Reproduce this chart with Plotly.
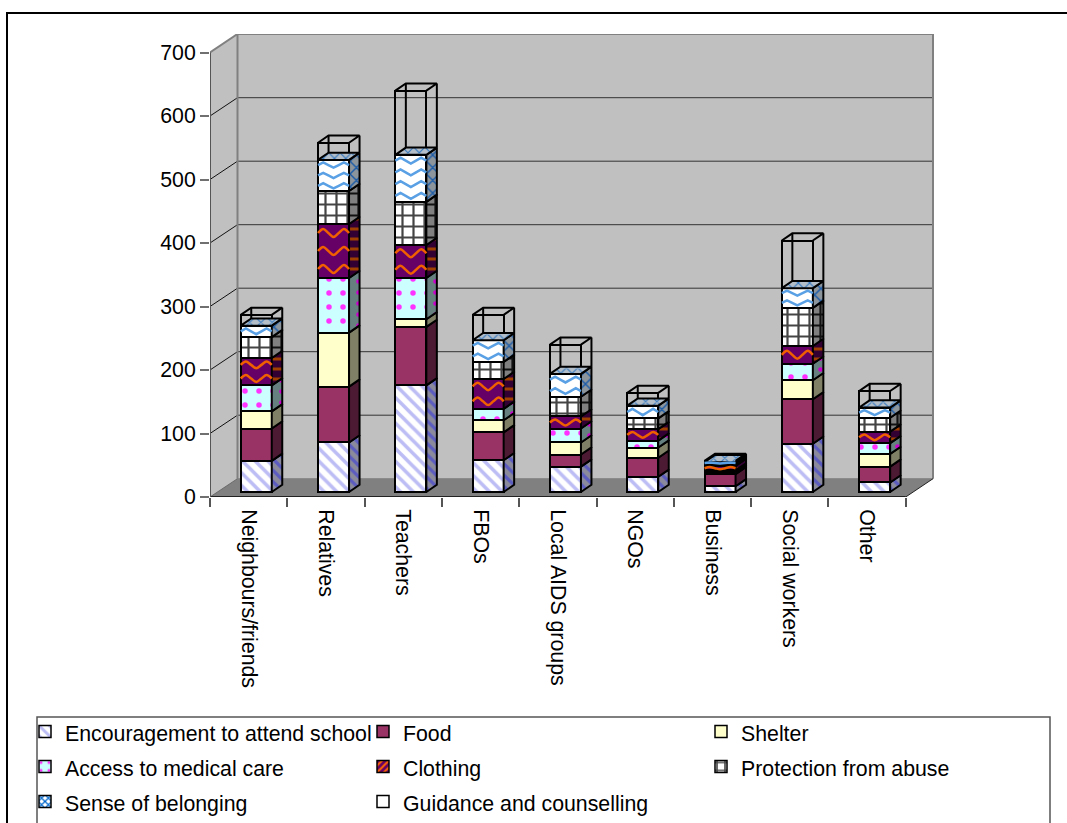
import plotly.graph_objects as go

# Support received from each source, stacked by type of support
categories = ["Neighbours/friends", "Relatives", "Teachers", "FBOs", "Local AIDS groups",
              "NGOs", "Business", "Social workers", "Other"]
encouragement = [49, 78, 168, 50, 40, 24, 9, 76, 15]
food = [51, 88, 92, 44, 19, 30, 19, 70, 25]
shelter = [27, 85, 12, 19, 19, 16, 3, 30, 20]
medical_care = [41, 86, 65, 18, 22, 11, 3, 26, 17]
clothing = [43, 85, 52, 47, 19, 18, 7, 28, 18]
protection = [33, 52, 68, 27, 31, 17, 3, 60, 22]
belonging = [18, 49, 74, 34, 36, 20, 3, 31, 16]
guidance = [17, 27, 101, 40, 46, 20, 2, 75, 26]
y_ticks = [0, 100, 200, 300, 400, 500, 600, 700]

# Plot-area geometry, in pixels; the axes run to the page edge so the legend can span it
W, H = 1067, 823
LEFT, RIGHT, TOP, BOTTOM = 210, W, 34, 497
BOX_RIGHT = 933
CAT_PX = 77.3
VAL_PX = 0.635
FONT = "Liberation Sans, Arial, sans-serif"
TEXT_SIZE = 21.3

X_AXIS_MAX = (RIGHT - LEFT) / CAT_PX
X_MAX = (BOX_RIGHT - LEFT) / CAT_PX
Y_MAX = (BOTTOM - TOP) / VAL_PX
# Depth of the box (wall offset) and of each column, in axis units
BOX_DX, BOX_DY = 27.5 / CAT_PX, 18.3 / VAL_PX
BAR_DX, BAR_DY = 10.5 / CAT_PX, 7.2 / VAL_PX
BAR_W = 31 / CAT_PX
# Columns stand on the floor, part-way into the box
BAR_X_OFF, BAR_Y_OFF = 7.6 / CAT_PX, 5 / VAL_PX


def paper_x(px):
    return (px - LEFT) / (RIGHT - LEFT)


def paper_y(px):
    return (BOTTOM - px) / (BOTTOM - TOP)


series = [
    dict(name="Encouragement to attend school", values=encouragement, bg="#FFFFFF",
         pattern=dict(shape="\\", fgcolor="#BDBDF5", size=9, solidity=0.4), key=None,
         side="#8A8A9C", side_pattern=dict(shape="\\", fgcolor="#5C5CC0", size=8, solidity=0.4)),
    dict(name="Food", values=food, bg="#993366", pattern=None, key=None,
         side="#4D1A33", side_pattern=None),
    dict(name="Shelter", values=shelter, bg="#FFFFCC", pattern=None, key=None,
         side="#808066", side_pattern=None),
    dict(name="Access to medical care", values=medical_care, bg="#CCFFFF",
         pattern=dict(shape=".", fgcolor="#FF33FF", size=14, solidity=0.12), key=None,
         side="#668080", side_pattern=dict(shape=".", fgcolor="#CC00CC", size=11, solidity=0.14)),
    dict(name="Clothing", values=clothing, bg="#660066", pattern=None,
         key=dict(shape="/", fgcolor="#FF6600", size=6, solidity=0.4),
         side="#330033", side_pattern=dict(shape="-", fgcolor="#A04000", size=10, solidity=0.3)),
    dict(name="Protection from abuse", values=protection, bg="#FFFFFF",
         pattern=dict(shape="+", fgcolor="#444444", size=11, solidity=0.36), key=None,
         side="#808080", side_pattern=dict(shape="+", fgcolor="#111111", size=11, solidity=0.36)),
    dict(name="Sense of belonging", values=belonging, bg="#FFFFFF", pattern=None,
         key=dict(shape="x", fgcolor="#0066CC", size=6, solidity=0.45),
         side="#8C949C", side_pattern=dict(shape="x", fgcolor="#1C5CA8", size=9, solidity=0.3)),
    dict(name="Guidance and counselling", values=guidance, bg="rgba(0,0,0,0)", pattern=None,
         key=None, side=None, side_pattern=None),
]

fig = go.Figure()

x_front = [i + 0.5 + BAR_X_OFF for i in range(len(categories))]
bases = [BAR_Y_OFF] * len(categories)
stack_edges = []

# Front faces of the stacked columns
for s in series:
    marker = dict(color=s["bg"], line=dict(color="#000000", width=2))
    if s["pattern"]:
        marker["pattern"] = dict(bgcolor=s["bg"], **s["pattern"])
    fig.add_trace(go.Bar(name=s["name"], x=x_front, y=s["values"], base=list(bases), width=BAR_W,
                         marker=marker, hoverinfo="name+y", showlegend=False))
    tops = [b + v for b, v in zip(bases, s["values"])]
    stack_edges.append((list(bases), tops))
    bases = tops

# Legend keys, in stacking order
for s in series:
    key = s["key"] or s["pattern"]
    marker = dict(color=s["bg"], line=dict(color="#000000", width=1.5))
    if key:
        marker["pattern"] = dict(bgcolor=s["bg"], **key)
    fig.add_trace(go.Bar(name=f'<span style="font-size:{TEXT_SIZE}px">{s["name"]}</span>',
                         x=[None], y=[None], marker=marker, showlegend=True))


def add_face(xs, ys, fill, pattern=None):
    kw = dict(fillpattern=dict(bgcolor=fill, **pattern)) if pattern else {}
    fig.add_trace(go.Scatter(x=xs, y=ys, mode="lines", fill="toself", fillcolor=fill,
                             line=dict(color="#000000", width=2), showlegend=False,
                             hoverinfo="skip", **kw))


def add_outline(xs, ys):
    fig.add_trace(go.Scatter(x=xs, y=ys, mode="lines", line=dict(color="#000000", width=2),
                             showlegend=False, hoverinfo="skip"))


# Right-hand side faces of every segment, bottom to top
half = BAR_W / 2
for s, (lo, hi) in zip(series, stack_edges):
    for cx, b, t in zip(x_front, lo, hi):
        xr = cx + half
        xs = [xr, xr + BAR_DX, xr + BAR_DX, xr, xr]
        ys = [b, b + BAR_DY, t + BAR_DY, t, b]
        if s["side"]:
            add_face(xs, ys, s["side"], s["side_pattern"])

# Lid of the solid part of each column, seen through the open top segment
sense_lo, sense_hi = stack_edges[6]
for cx, t in zip(x_front, sense_hi):
    xl, xr = cx - half, cx + half
    add_face([xl, xr, xr + BAR_DX, xl + BAR_DX, xl], [t, t, t + BAR_DY, t + BAR_DY, t],
             "#B4BEC8", dict(shape="x", fgcolor="#2C74C0", size=8, solidity=0.25))

# Wire-frame edges of the open top segment
guide_lo, guide_hi = stack_edges[7]
for cx, b, t in zip(x_front, guide_lo, guide_hi):
    xl, xr = cx - half, cx + half
    add_outline([xl, xl + BAR_DX, xr + BAR_DX, xr], [t, t + BAR_DY, t + BAR_DY, t])
    add_outline([xl + BAR_DX, xl + BAR_DX], [b + BAR_DY, t + BAR_DY])
    add_outline([xr + BAR_DX, xr + BAR_DX], [b + BAR_DY, t + BAR_DY])


def hatch_rows(lo, hi, spacing_px, amp_px):
    """Rows of wiggles that fill each segment, for the woven fills."""
    wx, wy = [], []
    for cx, b, t in zip(x_front, lo, hi):
        h_px = (t - b) * VAL_PX
        rows = max(1, round(h_px / spacing_px))
        amp = min(amp_px, h_px / rows / 4)
        for r in range(rows):
            mid = b + (r + 0.5) * (t - b) / rows
            steps = 6
            for k in range(steps + 1):
                wx.append(cx - half + k * BAR_W / steps)
                off = {0: 0, 1: amp, 2: 0, 3: -amp}[k % 4]
                wy.append(mid + off / VAL_PX)
            wx.append(None)
            wy.append(None)
    return wx, wy


wx, wy = hatch_rows(*stack_edges[4], spacing_px=18, amp_px=4)
fig.add_trace(go.Scatter(x=wx, y=wy, mode="lines", showlegend=False, hoverinfo="skip",
                         line=dict(color="#F06000", width=2.5, shape="spline", smoothing=1)))
wx, wy = hatch_rows(*stack_edges[6], spacing_px=12, amp_px=4)
fig.add_trace(go.Scatter(x=wx, y=wy, mode="lines", showlegend=False, hoverinfo="skip",
                         line=dict(color="#5AA0E4", width=2.5)))

# Chart box: walls, floor and gridlines
shapes = []


def poly(points, fill, line_color=None, width=0):
    path = "M" + " L".join(f"{x},{y}" for x, y in points) + " Z"
    shapes.append(dict(type="path", path=path, xref="x", yref="y", layer="below", fillcolor=fill,
                       line=dict(color=line_color or fill, width=width)))


def seg(x0, y0, x1, y1, color, width):
    shapes.append(dict(type="line", x0=x0, y0=y0, x1=x1, y1=y1, xref="x", yref="y", layer="below",
                       line=dict(color=color, width=width)))


FRONT_R = len(categories)
poly([(BOX_DX, BOX_DY), (X_MAX, BOX_DY), (X_MAX, Y_MAX), (BOX_DX, Y_MAX)], "#C0C0C0")
poly([(0, 0), (BOX_DX, BOX_DY), (BOX_DX, Y_MAX), (0, 700)], "#C0C0C0")
poly([(0, 0), (FRONT_R, 0), (X_MAX, BOX_DY), (BOX_DX, BOX_DY)], "#808080")
for v in y_ticks[1:-1]:
    seg(BOX_DX, v + BOX_DY, X_MAX, v + BOX_DY, "#333333", 1)
    seg(0, v, BOX_DX, v + BOX_DY, "#111111", 1)
seg(0, 700, BOX_DX, Y_MAX, "#808080", 2)
seg(BOX_DX, Y_MAX, X_MAX, Y_MAX, "#808080", 2)
seg(BOX_DX, BOX_DY, BOX_DX, Y_MAX, "#808080", 2)
seg(X_MAX, BOX_DY, X_MAX, Y_MAX, "#808080", 2)
seg(BOX_DX, BOX_DY, X_MAX, BOX_DY, "#808080", 1)
seg(0, 0, BOX_DX, BOX_DY, "#666666", 1)
seg(FRONT_R, 0, X_MAX, BOX_DY, "#222222", 1)
seg(0, 0, FRONT_R, 0, "#222222", 2)
seg(0, 0, 0, 700, "#555555", 2)

# Outer chart frame and legend box, both running off the page edge
shapes.append(dict(type="path", xref="paper", yref="paper", layer="below",
                   path=f"M{paper_x(7)},{paper_y(H + 10)} L{paper_x(7)},{paper_y(13)} "
                        f"L{paper_x(W + 10)},{paper_y(13)}",
                   line=dict(color="#000000", width=2)))
shapes.append(dict(type="path", xref="paper", yref="paper", layer="below",
                   path=f"M{paper_x(37)},{paper_y(H + 10)} L{paper_x(37)},{paper_y(717)} "
                        f"L{paper_x(1050)},{paper_y(717)} L{paper_x(1050)},{paper_y(H + 10)}",
                   line=dict(color="#555555", width=1.5)))

fig.update_layout(
    template="none",
    width=W, height=H,
    margin=dict(l=LEFT, r=W - RIGHT, t=TOP, b=H - BOTTOM, pad=0, autoexpand=False),
    paper_bgcolor="#FFFFFF", plot_bgcolor="rgba(0,0,0,0)",
    barmode="overlay", bargap=0,
    font=dict(family=FONT, size=TEXT_SIZE, color="#000000"),
    shapes=shapes,
    showlegend=True,
    legend=dict(orientation="h", x=paper_x(32), y=paper_y(709), xanchor="left", yanchor="top",
                entrywidth=300, entrywidthmode="pixels", traceorder="normal", indentation=-7,
                font=dict(family=FONT, size=24.6, color="#000000"), bgcolor="rgba(0,0,0,0)",
                borderwidth=0),
    xaxis=dict(range=[0, X_AXIS_MAX], showgrid=False, zeroline=False, showline=False,
               automargin=False, tickmode="array",
               tickvals=[i + 0.5 for i in range(len(categories))],
               ticktext=categories, tickangle=90, ticks="outside", ticklen=7,
               tickcolor="rgba(0,0,0,0)", tickfont=dict(family=FONT, size=TEXT_SIZE),
               minor=dict(tickmode="array", tickvals=list(range(len(categories) + 1)),
                          ticks="outside", ticklen=9, tickwidth=1.5, tickcolor="#555555",
                          showgrid=False)),
    yaxis=dict(range=[0, Y_MAX], showgrid=False, zeroline=False, showline=False, automargin=False,
               tickmode="array", tickvals=y_ticks, ticks="outside", ticklen=9, tickwidth=2,
               tickcolor="#707070", tickfont=dict(family=FONT, size=TEXT_SIZE)),
)

fig.write_html("out.html")
